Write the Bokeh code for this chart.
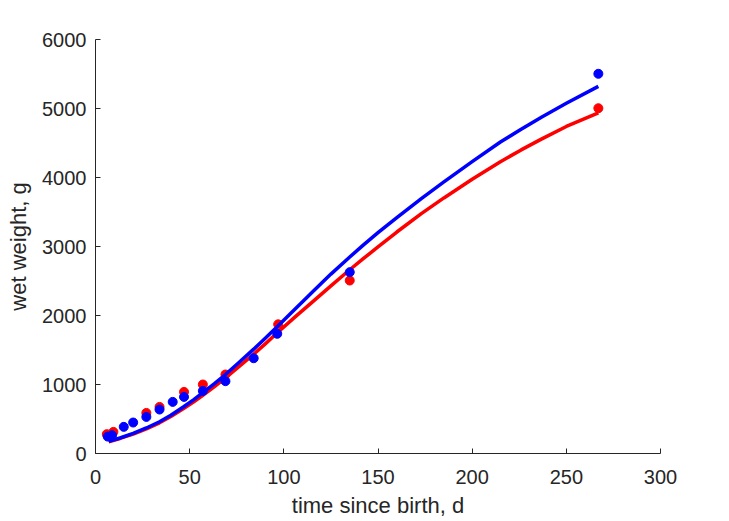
from bokeh.plotting import figure
from bokeh.models import Range1d, FixedTicker
from bokeh.embed import file_html
from bokeh.resources import INLINE

# observed data (time since birth, d ; wet weight, g)
t_red = [6, 9.5, 27, 34, 47, 57, 69, 97, 135, 267]
w_red = [280, 313, 588, 675, 893, 1000, 1145, 1872, 2507, 5004]

t_blue = [6.5, 8.8, 15, 20, 27, 34, 41, 47, 57, 69, 84, 96.5, 135, 267]
w_blue = [245, 265, 386, 449, 530, 637, 748, 820, 907, 1048, 1381, 1735, 2628, 5503]

# fitted curves
tc_red = [7, 13, 20, 27, 34, 40, 47, 52, 57, 63, 69, 76, 84, 90, 97, 106, 116, 125,
          135, 142, 150, 160, 173, 185, 200, 215, 226, 237, 250, 267]
wc_red = [170, 218, 282, 358, 445, 535, 655, 745, 842, 965, 1095, 1255, 1440, 1585,
          1760, 1980, 2216, 2430, 2663, 2820, 2993, 3210, 3476, 3704, 3974, 4229,
          4400, 4560, 4740, 4935]

tc_blue = [7, 13, 20, 27, 34, 40, 47, 52, 57, 63, 69, 76, 84, 90, 97, 106, 116, 125,
           135, 142, 150, 160, 173, 185, 200, 215, 226, 237, 250, 267]
wc_blue = [175, 225, 292, 370, 460, 555, 681, 778, 881, 1010, 1145, 1315, 1512, 1668,
           1850, 2095, 2363, 2600, 2848, 3016, 3200, 3420, 3695, 3936, 4230, 4514,
           4700, 4877, 5075, 5321]

x_ticks = [0, 50, 100, 150, 200, 250, 300]
y_ticks = [0, 1000, 2000, 3000, 4000, 5000, 6000]

FONT = "Liberation Sans"
GREY = "#262626"

p = figure(width=729, height=521, output_backend="svg", toolbar_location=None,
           x_range=Range1d(0, 300), y_range=Range1d(0, 6000),
           min_border_left=95, min_border_right=69, min_border_top=39, min_border_bottom=68)
p.outline_line_color = None
p.grid.visible = False
p.background_fill_color = "white"
p.border_fill_color = "white"

p.scatter(t_red, w_red, size=9, color="red")
p.line(tc_red, wc_red, line_width=3.5, color="red", line_join="round")
p.scatter(t_blue, w_blue, size=9, color="blue")
p.line(tc_blue, wc_blue, line_width=3.5, color="blue", line_join="round")

for ax, ticks in ((p.xaxis[0], x_ticks), (p.yaxis[0], y_ticks)):
    ax.ticker = FixedTicker(ticks=ticks)
    ax.minor_tick_line_color = None
    ax.major_tick_in = 5
    ax.major_tick_out = 0
    ax.axis_line_color = GREY
    ax.major_tick_line_color = GREY
    ax.major_label_text_font = FONT
    ax.major_label_text_font_size = "20px"
    ax.major_label_text_color = GREY
    ax.axis_label_text_font = FONT
    ax.axis_label_text_font_size = "22px"
    ax.axis_label_text_color = GREY
    ax.axis_label_text_font_style = "normal"

p.xaxis.axis_label = "time since birth, d"
p.yaxis.axis_label = "wet weight, g"
p.xaxis.major_label_standoff = 16
p.yaxis.major_label_standoff = 9
p.xaxis.axis_label_standoff = 6
p.yaxis.axis_label_standoff = 8

open("out.html", "w").write(file_html(p, INLINE))
